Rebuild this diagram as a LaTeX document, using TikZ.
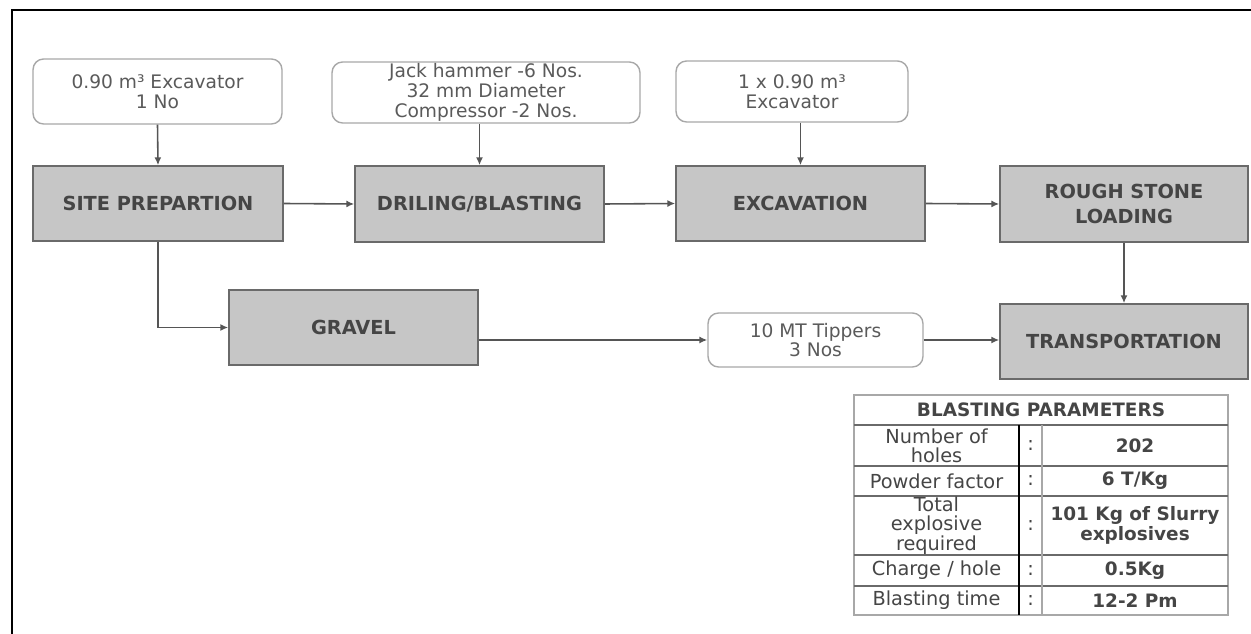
\documentclass[tikz,border=0pt]{standalone}
\usepackage{fontspec}
\setmainfont{DejaVu Sans}
\usetikzlibrary{arrows.meta,positioning}

\definecolor{boxgray}{HTML}{C6C6C6}
\definecolor{edgegray}{HTML}{6A6A6A}
\definecolor{notegray}{HTML}{A8A8A8}
\definecolor{notetxt}{HTML}{5A5A5A}
\definecolor{txtgray}{HTML}{454545}
\definecolor{arrgray}{HTML}{555555}

\begin{document}
\begin{tikzpicture}[x=0.02cm,y=-0.02cm]
\tikzstyle{every node}+=[inner sep=0pt]
\tikzstyle{process}=[draw=edgegray,fill=boxgray,line width=0.9pt,align=center,text=txtgray,font=\fontsize{11}{14}\selectfont\bfseries]
\tikzstyle{note}=[draw=notegray,fill=white,rounded corners=6pt,line width=0.8pt,align=center,text=notetxt,font=\fontsize{10.6}{11.3}\selectfont]
\tikzstyle{arr}=[draw=arrgray,line width=0.9pt,-{Latex[length=4.5pt,width=4pt]}]
\tikzstyle{cell}=[align=center,text=txtgray,font=\fontsize{11}{11}\selectfont]
\useasboundingbox (0,0) rectangle (1251,634);
\draw [black,line width=1.6pt] (12,634) -- (12,10) -- (1251,10);
% equipment notes
\node [note,minimum width=4.98cm,minimum height=1.3cm] (n1) at (157.5,91.5) {0.90 m³ Excavator\\1 No};
\node [note,minimum width=6.16cm,minimum height=1.22cm] (n2) at (486,92.5) {Jack hammer -6 Nos.\\32 mm Diameter\\Compressor -2 Nos.};
\node [note,minimum width=4.64cm,minimum height=1.22cm] (n3) at (792,91.5) {1 x 0.90 m³\\Excavator};
% process boxes
\node [process,minimum width=5cm,minimum height=1.5cm] (site) at (158,203.5) {SITE PREPARTION};
\node [process,minimum width=4.98cm,minimum height=1.52cm] (dril) at (479.5,204) {DRILING/BLASTING};
\node [process,minimum width=4.98cm,minimum height=1.5cm] (exc) at (800.5,203.5) {EXCAVATION};
\node [process,minimum width=4.96cm,minimum height=1.52cm] (rough) at (1124,204) {ROUGH STONE\\LOADING};
\node [process,minimum width=4.98cm,minimum height=1.5cm] (gravel) at (353.5,327.5) {GRAVEL};
\node [note,minimum width=4.3cm,minimum height=1.08cm] (tip) at (815.5,340) {10 MT Tippers\\3 Nos};
\node [process,minimum width=4.96cm,minimum height=1.5cm] (trans) at (1124,341.5) {TRANSPORTATION};
% connectors
\draw [arr] (n1.south) -- (site.north);
\draw [arr] (dril.north |- n2.south) -- (dril.north);
\draw [arr] (exc.north |- n3.south) -- (exc.north);
\draw [arr] (site.east) -- (dril.west);
\draw [arr] (dril.east) -- (exc.west);
\draw [arr] (exc.east) -- (rough.west);
\draw [arr] (rough.south) -- (trans.north);
\draw [arr] (site.south) |- (gravel.west);
\draw [arr] (tip.west -| gravel.east) -- (tip.west);
\draw [arr] (tip.east) -- (tip.east -| trans.west);
% blasting parameters table
\draw [notegray,line width=0.8pt] (854,395) rectangle (1228,615);
\draw [edgegray,line width=0.8pt] (854,425) -- (1228,425);
\draw [edgegray,line width=0.8pt] (854,466) -- (1228,466);
\draw [edgegray,line width=0.8pt] (854,496) -- (1228,496);
\draw [edgegray,line width=0.8pt] (854,555) -- (1228,555);
\draw [edgegray,line width=0.8pt] (854,586) -- (1228,586);
\draw [black,line width=0.9pt] (1019,425) -- (1019,615);
\draw [notegray,line width=0.6pt] (1042,425) -- (1042,615);
\node [cell,font=\fontsize{10.5}{11}\selectfont\bfseries] (bp) at (1041,410) {BLASTING PARAMETERS};
\node [cell] (k1) at (936.5,445.5) {Number of\\holes};
\node [cell] (c1) at (1030.5,445.5) {:};
\node [cell,font=\fontsize{10.5}{11}\selectfont\bfseries] (v1) at (1135,445.5) {202};
\node [cell] (k2) at (936.5,481) {Powder factor};
\node [cell] (c2) at (1030.5,481) {:};
\node [cell,font=\fontsize{10.5}{11}\selectfont\bfseries] (v2) at (1135,481) {6 T/Kg};
\node [cell] (k3) at (936.5,525.5) {Total\\explosive\\required};
\node [cell] (c3) at (1030.5,525.5) {:};
\node [cell,font=\fontsize{10.5}{11}\selectfont\bfseries] (v3) at (1135,525.5) {101 Kg of Slurry\\explosives};
\node [cell] (k4) at (936.5,570.5) {Charge / hole};
\node [cell] (c4) at (1030.5,570.5) {:};
\node [cell,font=\fontsize{10.5}{11}\selectfont\bfseries] (v4) at (1135,570.5) {0.5Kg};
\node [cell] (k5) at (936.5,600.5) {Blasting time};
\node [cell] (c5) at (1030.5,600.5) {:};
\node [cell,font=\fontsize{10.5}{11}\selectfont\bfseries] (v5) at (1135,600.5) {12-2 Pm};
\end{tikzpicture}
\end{document}
